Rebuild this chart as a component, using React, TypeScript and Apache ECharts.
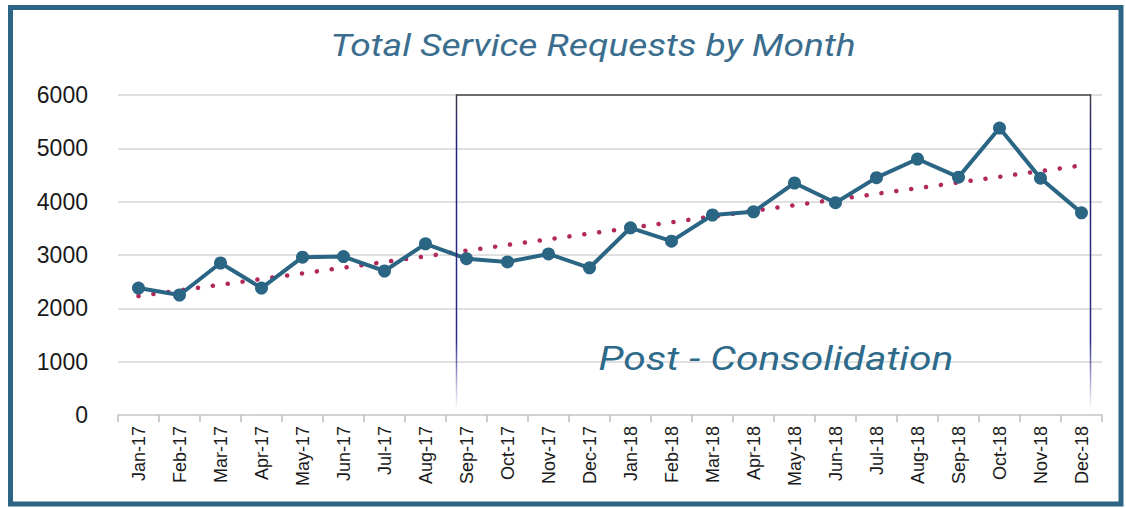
import React, { useEffect, useRef } from "react";
import * as echarts from "echarts";

const months = [
  "Jan-17", "Feb-17", "Mar-17", "Apr-17", "May-17", "Jun-17", "Jul-17", "Aug-17",
  "Sep-17", "Oct-17", "Nov-17", "Dec-17", "Jan-18", "Feb-18", "Mar-18", "Apr-18",
  "May-18", "Jun-18", "Jul-18", "Aug-18", "Sep-18", "Oct-18", "Nov-18", "Dec-18",
];
const requests = [
  2380, 2250, 2850, 2380, 2960, 2970, 2700, 3210,
  2930, 2870, 3020, 2760, 3510, 3260, 3750, 3810,
  4350, 3980, 4450, 4800, 4460, 5380, 4440, 3790,
];
const trendStart = 2230;
const trendEnd = 4680;
const yTicks = [0, 1000, 2000, 3000, 4000, 5000, 6000];
const boxStartMonth = "Sep-17";
const boxEndMonth = "Dec-18";
const titleText = "Total Service Requests by Month";
const boxLabel = "Post - Consolidation";

export default function App() {
  const ref = useRef<HTMLDivElement>(null);
  useEffect(() => {
    document.body.style.margin = "0";
    const chart = echarts.init(ref.current!, null, { renderer: "svg" });
    chart.setOption({
      animation: false,
      backgroundColor: "#ffffff",
      grid: { left: 118, right: 24, top: 95, bottom: 93, containLabel: false },
      xAxis: {
        type: "category",
        data: months,
        boundaryGap: true,
        axisLine: { lineStyle: { color: "#cfcfcf", width: 1.5 } },
        axisTick: { show: true, length: 7, lineStyle: { color: "#bdbdbd", width: 1.5 } },
        axisLabel: {
          rotate: 90,
          interval: 0,
          margin: 11,
          fontFamily: "Liberation Sans, Arial, sans-serif",
          fontSize: 18,
          color: "#1a1a1a",
        },
        splitLine: { show: false },
      },
      yAxis: {
        type: "value",
        min: yTicks[0],
        max: yTicks[yTicks.length - 1],
        interval: 1000,
        axisLine: { show: false },
        axisTick: { show: false },
        axisLabel: {
          margin: 30,
          fontFamily: "Liberation Sans, Arial, sans-serif",
          fontSize: 23,
          color: "#1a1a1a",
          formatter: (v: number) => String(v),
        },
        splitLine: { lineStyle: { color: "#d6d6d6", width: 1.5 } },
      },
      series: [
        {
          type: "line",
          name: "Trend",
          data: [[months[0], trendStart], [months[months.length - 1], trendEnd]],
          symbol: "none",
          z: 2,
          lineStyle: { color: "#b0285c", width: 4.5, type: [0.1, 14.9], cap: "round" },
        },
        {
          type: "line",
          name: "Requests",
          data: requests,
          symbol: "circle",
          symbolSize: 13,
          z: 3,
          itemStyle: { color: "#2b6584" },
          lineStyle: { color: "#2b6584", width: 4 },
        },
      ],
    });

    const [lx, top] = chart.convertToPixel({ xAxisIndex: 0, yAxisIndex: 0 }, [boxStartMonth, 6000]) as number[];
    const [rx, bottom] = chart.convertToPixel({ xAxisIndex: 0, yAxisIndex: 0 }, [boxEndMonth, 0]) as number[];
    const left = lx - 10;
    const right = rx + 9;
    const sideFill = () =>
      new echarts.graphic.LinearGradient(0, 0, 0, 1, [
        { offset: 0, color: "#3a3a4a" },
        { offset: 0.15, color: "#23237a" },
        { offset: 0.78, color: "#2a2a86" },
        { offset: 1, color: "rgba(60,60,160,0)" },
      ]);

    chart.setOption({
      graphic: [
        {
          type: "rect",
          silent: true,
          shape: { x: 10.5, y: 7.5, width: 1110.5, height: 496.5 },
          style: { fill: "none", stroke: "#2c6584", lineWidth: 5 },
          z: 100,
        },
        {
          type: "text",
          x: 593,
          y: 45,
          scaleX: 1.2,
          style: {
            text: titleText,
            fontFamily: "Roboto, sans-serif",
            fontStyle: "italic",
            fontSize: 31,
            fill: "#3b6e8e",
            textAlign: "center",
            textVerticalAlign: "middle",
          },
        },
        {
          type: "rect",
          silent: true,
          shape: { x: left, y: top - 0.75, width: right - left, height: 1.5 },
          style: { fill: "#444444" },
          z: 50,
        },
        {
          type: "rect",
          silent: true,
          shape: { x: left - 0.75, y: top - 0.75, width: 1.5, height: bottom - top - 5 },
          style: { fill: sideFill() },
          z: 50,
        },
        {
          type: "rect",
          silent: true,
          shape: { x: right - 0.75, y: top - 0.75, width: 1.5, height: bottom - top - 5 },
          style: { fill: sideFill() },
          z: 50,
        },
        {
          type: "text",
          x: 776,
          y: 358,
          scaleX: 1.2,
          style: {
            text: boxLabel,
            fontFamily: "Roboto, sans-serif",
            fontStyle: "italic",
            fontSize: 34,
            fill: "#2e6a8a",
            textAlign: "center",
            textVerticalAlign: "middle",
          },
          z: 60,
        },
      ],
    });
    return () => chart.dispose();
  }, []);
  return (
    <div
      ref={ref}
      style={{ position: "fixed", left: 0, top: 0, width: 1126, height: 508, background: "#fff" }}
    />
  );
}
